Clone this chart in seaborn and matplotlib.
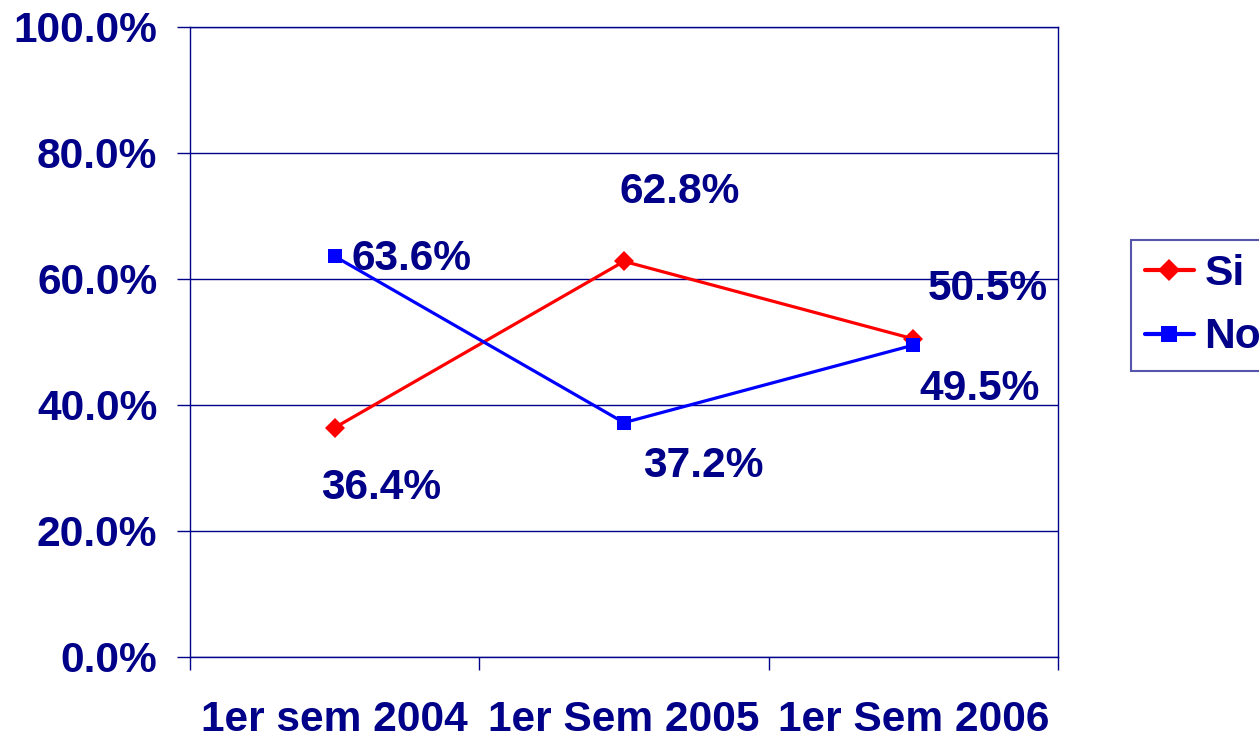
import matplotlib
matplotlib.use("Agg")
import matplotlib.pyplot as plt
import seaborn as sns
import pandas as pd
import numpy as np
from matplotlib.ticker import FixedLocator, PercentFormatter

categories = ["1er sem 2004", "1er Sem 2005", "1er Sem 2006"]
si_values = [36.4, 62.8, 50.5]
no_values = [63.6, 37.2, 49.5]
series_names = ["Si", "No"]
y_ticks = [0, 20, 40, 60, 80, 100]

NAVY = "#000088"
FS = 30.6

sns.set_style("white")
plt.rcParams["font.family"] = ["Liberation Sans", "DejaVu Sans"]
plt.rcParams["font.weight"] = "bold"

df = pd.DataFrame({
    "pos": list(range(len(categories))) * 2,
    "value": si_values + no_values,
    "serie": [series_names[0]] * len(categories) + [series_names[1]] * len(categories),
})

fig = plt.figure(figsize=(12.59, 7.40), dpi=100)
ax = fig.add_axes([190 / 1259, 1 - 657 / 740, (1058 - 190) / 1259, (657 - 27) / 740])

sns.lineplot(data=df, x="pos", y="value", hue="serie", style="serie",
             hue_order=series_names, style_order=series_names,
             palette={"Si": "#FF0000", "No": "#0000FF"},
             markers={"Si": "D", "No": "s"}, dashes=False,
             markersize=10, markeredgewidth=0, linewidth=2.3,
             ax=ax, legend=True, zorder=3)

ax.set_xlim(-0.5, len(categories) - 0.5)
ax.set_ylim(0, 100)
ax.set_xlabel("")
ax.set_ylabel("")

# y axis
ax.set_yticks(y_ticks)
ax.yaxis.set_major_formatter(PercentFormatter(decimals=1))
ax.grid(axis="y", color=NAVY, linewidth=1.0)
ax.grid(axis="x", visible=False)

# x axis: ticks at category boundaries, labels at centers
ax.xaxis.set_major_locator(FixedLocator(np.arange(-0.5, len(categories), 1.0)))
ax.xaxis.set_major_formatter(plt.NullFormatter())
ax.xaxis.set_minor_locator(FixedLocator(np.arange(len(categories))))
ax.set_xticklabels(categories, minor=True)
ax.tick_params(axis="x", which="major", length=9.5, width=1.0, color=NAVY, direction="out", bottom=True)
ax.tick_params(axis="x", which="minor", length=0, pad=31, labelsize=FS, labelcolor=NAVY)
ax.tick_params(axis="y", which="major", length=9.5, width=1.0, color=NAVY, direction="out", left=True,
               pad=14, labelsize=FS, labelcolor=NAVY)
for lab in ax.get_xticklabels(minor=True) + ax.get_yticklabels():
    lab.set_fontweight("bold")

for s in ax.spines.values():
    s.set_color(NAVY)
    s.set_linewidth(1.0)
    s.set_visible(True)

# data labels
si_offsets = [(46, -60), (56, 69), (74, 50)]
no_offsets = [(77, -3), (79, -43), (66, -44)]
for i, v in enumerate(si_values):
    ax.annotate(f"{v:.1f}%", (i, v), xytext=si_offsets[i], textcoords="offset pixels",
                ha="center", va="center", fontsize=FS, fontweight="bold", color=NAVY, zorder=4)
for i, v in enumerate(no_values):
    ax.annotate(f"{v:.1f}%", (i, v), xytext=no_offsets[i], textcoords="offset pixels",
                ha="center", va="center", fontsize=FS, fontweight="bold", color=NAVY, zorder=4)

handles, labels = ax.get_legend_handles_labels()
leg = ax.legend(handles, labels, loc="upper left",
                bbox_to_anchor=(1131 / 1259, 1 - 240 / 740), bbox_transform=fig.transFigure,
                frameon=True, fancybox=False, framealpha=1, edgecolor="#5555AA",
                fontsize=FS, handlelength=1.15, handletextpad=0.25, labelspacing=0.55,
                borderpad=0.33, borderaxespad=0)
leg.get_frame().set_linewidth(1.5)
for t in leg.get_texts():
    t.set_color(NAVY)
    t.set_fontweight("bold")
for h in leg.legend_handles:
    h.set_markersize(11)
    h.set_linewidth(3)

fig.savefig("out.png", dpi=100)
